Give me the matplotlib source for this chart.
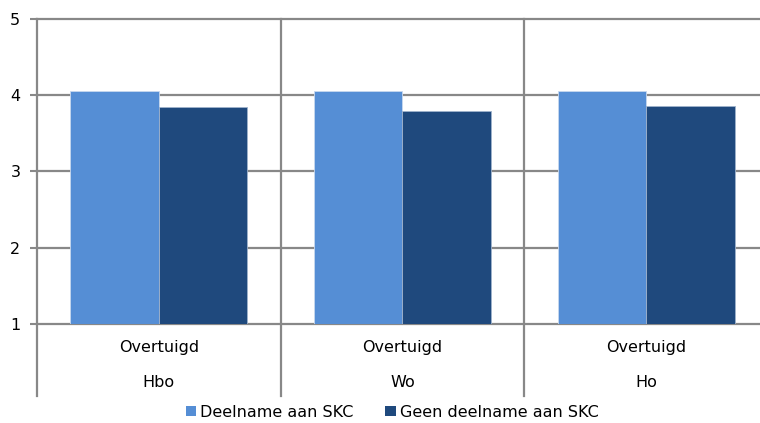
import matplotlib
matplotlib.use('Agg')
import matplotlib.pyplot as plt
from matplotlib.patches import Patch
import numpy as np

categories = ['Hbo', 'Wo', 'Ho']
sub_label = 'Overtuigd'
series_names = ['Deelname aan SKC', 'Geen deelname aan SKC']
deelname = [4.05, 4.05, 4.05]
geen_deelname = [3.84, 3.79, 3.85]
colors = ['#558ED5', '#1F497D']
yticks = [1, 2, 3, 4, 5]

plt.rcParams['font.family'] = ['DejaVu Sans']

fig = plt.figure(figsize=(7.6, 4.23), dpi=100)
ax = fig.add_axes([0.0487, 0.234, 1.0105 - 0.0487, 0.9558 - 0.234])

x = np.arange(len(categories))
w = 0.363
ax.bar(x - w / 2, deelname, w, bottom=0, color=colors[0], edgecolor='#c8d8ee', linewidth=0.6, zorder=3)
ax.bar(x + w / 2, geen_deelname, w, bottom=0, color=colors[1], edgecolor='#9fb3cc', linewidth=0.6, zorder=3)

ax.set_xlim(-0.5, len(categories) - 0.5)
ax.set_ylim(1, 5)
ax.set_yticks(yticks)
ax.set_yticklabels([str(t) for t in yticks], fontsize=11.5)
ax.tick_params(axis='y', length=5, width=1.5, color='#888888', pad=7)
ax.set_xticks([])
ax.yaxis.grid(True, color='#888888', linewidth=1.6, zorder=1)
for gl in ax.get_ygridlines():
    gl.set_clip_on(False)
ax.set_axisbelow(True)
for s in ax.spines.values():
    s.set_visible(False)

# vertical separators extending below the plot into the label area
trans = ax.get_xaxis_transform()
for b in np.arange(len(categories)) - 0.5:
    ax.plot([b, b], [-0.236, 1], transform=trans, color='#888888', linewidth=1.6, clip_on=False, zorder=2)

for i, c in enumerate(categories):
    ax.text(i, -0.078, sub_label, transform=trans, ha='center', va='center', fontsize=11.5)
    ax.text(i, -0.19, c, transform=trans, ha='center', va='center', fontsize=11.5)

handles = [Patch(facecolor=colors[0]), Patch(facecolor=colors[1])]
fig.legend(handles, series_names, loc='center', bbox_to_anchor=(0.516, 0.026), ncol=2,
           frameon=False, fontsize=11.5, handlelength=0.65, handleheight=0.65,
           handletextpad=0.25, columnspacing=2.0)

fig.savefig('out.png', dpi=100)
